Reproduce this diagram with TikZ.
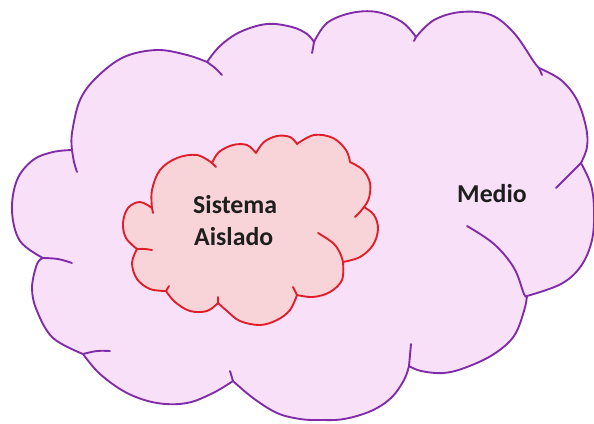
\documentclass[tikz,border=0pt]{standalone}
\usepackage{fontspec}
\newfontfamily\labfont{Carlito}
\definecolor{outfill}{RGB}{249,224,249}
\definecolor{outline}{RGB}{128,44,168}
\definecolor{infill}{RGB}{248,212,216}
\definecolor{inline}{RGB}{222,30,40}
\definecolor{txt}{RGB}{30,30,30}
\tikzset{
  outercloud/.style={draw=outline,fill=outfill,line width=1.6pt,line join=round},
  outertail/.style={draw=outline,line width=1.6pt,line cap=round},
  innercloud/.style={draw=inline,fill=infill,line width=1.6pt,line join=round},
  innertail/.style={draw=inline,line width=1.6pt,line cap=round},
  lab/.style={font=\labfont\fontsize{22}{27}\selectfont\bfseries,text=txt,inner sep=0pt,anchor=base west},
  sm/.style={smooth,tension=0.6}
}
\begin{document}
\begin{tikzpicture}[x=0.03cm,y=-0.03cm]
\useasboundingbox (0,0) rectangle (594,423);
\fill[white] (0,0) rectangle (594,423);
% outer cloud
\path[outercloud] (72,150)
 -- plot[sm] coordinates {(72,150) (72,133) (80,100) (97,77) (124,57) (157,50) (187,55) (207,62)}
 -- plot[sm] coordinates {(207,62) (220,46) (240,32) (267,24) (292,27) (307,34) (314,42)}
 -- plot[sm] coordinates {(314,42) (327,23) (351,13) (377,12) (402,22) (416,37)}
 -- plot[sm] coordinates {(416,37) (434,20) (461,12) (491,15) (514,33) (534,62) (539,68)}
 -- plot[sm] coordinates {(539,68) (561,80) (577,100) (586,127) (587,147) (581,163)}
 -- plot[sm] coordinates {(581,163) (591,185) (594,210) (592,240) (581,266) (561,284) (527,296)}
 -- plot[sm] coordinates {(527,296) (524,311) (514,336) (494,354) (467,367) (444,373) (421,371) (409,366)}
 -- plot[sm] coordinates {(409,366) (404,380) (391,398) (371,411) (344,419) (320,420) (300,419) (277,413) (253,398) (233,381)}
 -- plot[sm] coordinates {(233,381) (213,393) (187,403) (157,403) (127,393) (100,374) (83,354)}
 -- plot[sm] coordinates {(83,354) (53,338) (37,311) (32,288) (37,264) (43,258)}
 -- plot[sm] coordinates {(43,258) (20,241) (12,211) (17,180) (33,160) (53,152) (72,150)}
 -- cycle;
% outer tails
\path[outertail] plot[sm] coordinates {(72,150) (74,162) (77,172)};
\path[outertail] plot[sm] coordinates {(207,62) (215,68) (222,75)};
\path[outertail] plot[sm] coordinates {(314,42) (313,48) (312,53)};
\path[outertail] plot[sm] coordinates {(416,37) (414,41)};
\path[outertail] plot[sm] coordinates {(539,68) (542,75)};
\path[outertail] plot[sm] coordinates {(581,163) (567,177) (556,188)};
\path[outertail] plot[sm] coordinates {(467,226) (494,244) (514,268) (524,294) (527,296)};
\path[outertail] plot[sm] coordinates {(409,366) (410,355) (411,344)};
\path[outertail] plot[sm] coordinates {(233,381) (230,371)};
\path[outertail] plot[sm] coordinates {(83,354) (97,351) (110,351)};
\path[outertail] plot[sm] coordinates {(43,258) (58,259) (72,263)};
% inner cloud
\path[innercloud] (152,208)
 -- plot[sm] coordinates {(152,208) (152,190) (160,170) (177,158) (197,155) (212,163)}
 -- plot[sm] coordinates {(212,163) (219,152) (233,145) (247,145) (256,153)}
 -- plot[sm] coordinates {(256,153) (264,142) (277,136) (290,137) (297,144)}
 -- plot[sm] coordinates {(297,144) (314,135) (333,138) (346,150) (350,162)}
 -- plot[sm] coordinates {(350,162) (363,170) (370,183) (369,198) (364,207)}
 -- plot[sm] coordinates {(364,207) (374,215) (378,229) (373,245) (360,257) (343,262)}
 -- plot[sm] coordinates {(343,262) (342,280) (330,292) (313,297) (297,295)}
 -- plot[sm] coordinates {(297,295) (290,310) (277,320) (260,325) (240,321) (227,311) (218,303)}
 -- plot[sm] coordinates {(218,303) (207,311) (190,311) (175,302) (166,291)}
 -- plot[sm] coordinates {(166,291) (150,289) (137,279) (132,263) (137,249)}
 -- plot[sm] coordinates {(137,249) (126,238) (123,223) (128,208) (140,202) (152,208)}
 -- cycle;
% inner tails
\path[innertail] plot[sm] coordinates {(152,208) (153,213)};
\path[innertail] plot[sm] coordinates {(212,163) (216,167)};
\path[innertail] plot[sm] coordinates {(364,207) (360,212) (355,217)};
\path[innertail] plot[sm] coordinates {(318,233) (333,243) (340,253) (343,262)};
\path[innertail] plot[sm] coordinates {(297,295) (293,287)};
\path[innertail] plot[sm] coordinates {(218,303) (218,297)};
\path[innertail] plot[sm] coordinates {(166,291) (169,286)};
\path[innertail] plot[sm] coordinates {(137,249) (145,249) (152,250)};
% labels
\node[lab] (sis) at (193,213) {Sistema};
\node[lab] (ais) at (194,245) {Aislado};
\node[lab] (med) at (457,202) {Medio};
\end{tikzpicture}
\end{document}
